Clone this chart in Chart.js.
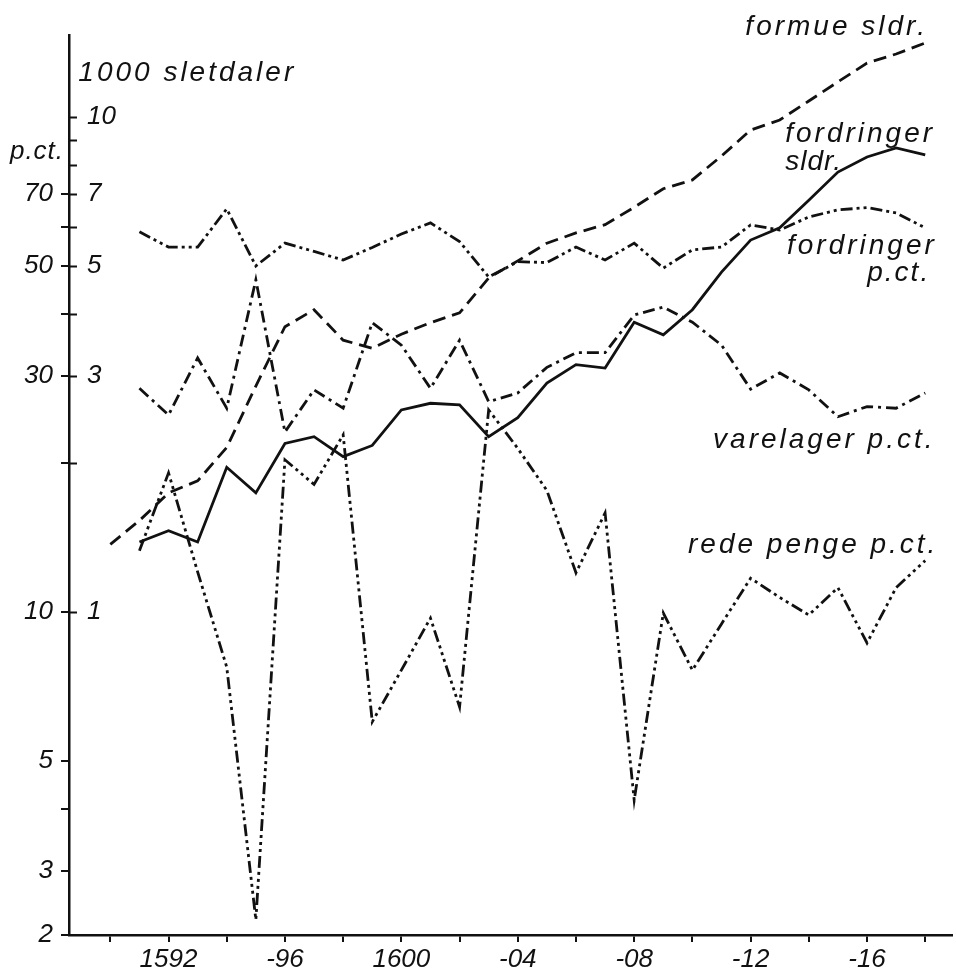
<!DOCTYPE html>
<html>
<head>
<meta charset="utf-8">
<title>Formue, fordringer, varelager og rede penge 1590-1618</title>
<script src="https://cdn.jsdelivr.net/npm/chart.js@4.4.1/dist/chart.umd.min.js"></script>
<style>
    html, body { margin: 0; padding: 0; background: #fff; }
    #wrap { position: relative; width: 956px; height: 971px; }
</style>
</head>
<body>
<div id="wrap"><canvas id="chart"></canvas></div>
<script>
(function() {
    'use strict';

    // --- data ---
    const years = [1590, 1591, 1592, 1593, 1594, 1595, 1596, 1597, 1598, 1599,
                   1600, 1601, 1602, 1603, 1604, 1605, 1606, 1607, 1608, 1609,
                   1610, 1611, 1612, 1613, 1614, 1615, 1616, 1617, 1618];

    // 1000 sletdaler
    const formueSldr = [1.37, 1.53, 1.74, 1.84, 2.15, 2.86, 3.77, 4.08, 3.54, 3.41,
                        3.64, 3.84, 4.02, 4.73, 5.12, 5.56, 5.83, 6.06, 6.57, 7.16,
                        7.46, 8.34, 9.41, 9.86, 10.77, 11.77, 12.85, 13.4, 14.11];
    const fordringerSldr = [null, 1.385, 1.46, 1.385, 1.96, 1.74, 2.19, 2.26, 2.06, 2.17,
                            2.56, 2.64, 2.62, 2.26, 2.47, 2.90, 3.16, 3.11, 3.85, 3.63,
                            4.08, 4.86, 5.64, 5.97, 6.79, 7.74, 8.30, 8.66, 8.38];

    // p.ct.
    const fordringerPct = [null, 58.6, 54.6, 54.6, 65.2, 50.0, 55.6, 53.5, 51.4, 54.5,
                           58.0, 61.1, 56.0, 47.5, 51.0, 50.8, 54.6, 51.4, 55.6, 49.5,
                           53.9, 54.6, 60.5, 59.1, 62.8, 64.9, 65.6, 64.0, 59.7];
    const varelagerPct = [null, 28.3, 25.0, 32.6, 25.8, 46.9, 23.1, 28.1, 25.8, 38.4,
                          34.6, 28.3, 35.4, 26.6, 27.7, 31.2, 33.4, 33.4, 39.8, 41.3,
                          38.5, 34.6, 28.2, 30.4, 28.1, 24.8, 26.0, 25.8, 27.7];
    const redePengePct = [null, 13.3, 19.1, 12.05, 7.74, 2.39, 20.3, 18.1, 22.8, 6.0,
                          7.63, 9.72, 6.43, 25.6, 21.4, 17.6, 12.0, 15.85, 4.17, 9.95,
                          7.63, 9.46, 11.7, 10.7, 9.86, 11.2, 8.66, 11.2, 12.7];

    // axes
    const xTickYears = [1590, 1592, 1594, 1596, 1598, 1600, 1602, 1604, 1606, 1608,
                        1610, 1612, 1614, 1616, 1618];
    const xLabelYears = [1592, 1596, 1600, 1604, 1608, 1612, 1616];
    const xLabelTexts = ['1592', '-96', '1600', '-04', '-08', '-12', '-16'];

    const yMinPct = 2.226;
    const yMaxPct = 146.4;
    const pctTickValues = [yMinPct, 3, 4, 5, 10, 20, 30, 40, 50, 60, 70, 80, 90, 100];
    const pctLabelValues = [yMinPct, 3, 5, 10, 30, 50, 70];
    const pctLabelTexts = ['2', '3', '5', '10', '30', '50', '70'];
    const sldrTickValues = [1, 3, 5, 7, 10];
    const innerTickValues = [10, 20, 30, 40, 50, 60, 70, 80, 90, 100];

    // text written on the drawing, anchored in data units
    const notes = [
        { text: '1000 sletdaler', year: 1588.9, pct: 122.7, align: 'left' },
        { text: 'p.ct.', year: 1586.55, pct: 85, align: 'left', size: 26, spacing: 1 },
        { text: 'formue sldr.', year: 1618.1, pct: 152, align: 'right' },
        { text: 'fordringer', year: 1613.19, pct: 92.3, align: 'left' },
        { text: 'sldr.', year: 1613.19, pct: 81, align: 'left', spacing: 1 },
        { text: 'fordringer', year: 1613.25, pct: 54.9, align: 'left' },
        { text: 'p.ct.', year: 1618.17, pct: 48.4, align: 'right', spacing: 2 },
        { text: 'varelager p.ct.', year: 1610.71, pct: 22.25, align: 'left' },
        { text: 'rede penge p.ct.', year: 1609.85, pct: 13.66, align: 'left' }
    ];

    const INK = '#111';
    const FONT_FAMILY = '"Liberation Sans", Arial, sans-serif';
    const tickFont = { family: FONT_FAMILY, size: 26, style: 'italic' };

    function points(values) {
        return years.map((yr, i) => ({ x: yr, y: values[i] }));
    }

    function lineSet(label, values, axis, dash) {
        return {
            label,
            data: points(values),
            yAxisID: axis,
            borderColor: INK,
            borderWidth: 2.8,
            borderDash: dash,
            borderCapStyle: 'butt',
            pointRadius: 0,
            tension: 0,
            fill: false
        };
    }

    const paperMarks = {
        id: 'paperMarks',
        afterDraw(chart) {
            const ctx = chart.ctx;
            const x = chart.scales.x;
            const y = chart.scales.y;
            const left = chart.chartArea.left;

            ctx.save();
            // ticks on the inner side of the vertical axis (sletdaler side)
            ctx.strokeStyle = INK;
            ctx.lineWidth = 2;
            innerTickValues.forEach(v => {
                const py = Math.round(y.getPixelForValue(v)) + 0.5;
                ctx.beginPath();
                ctx.moveTo(left, py);
                ctx.lineTo(left + 8, py);
                ctx.stroke();
            });

            ctx.fillStyle = INK;
            ctx.textBaseline = 'middle';
            notes.forEach(n => {
                ctx.font = 'italic ' + (n.size || 28) + 'px ' + FONT_FAMILY;
                if ('letterSpacing' in ctx) ctx.letterSpacing = (n.spacing ?? 3) + 'px';
                ctx.textAlign = n.align;
                ctx.fillText(n.text, x.getPixelForValue(n.year), y.getPixelForValue(n.pct));
            });
            ctx.restore();
        }
    };

    new Chart(document.getElementById('chart'), {
        type: 'line',
        data: {
            datasets: [
                lineSet('formue sldr.', formueSldr, 'y2', [13, 7]),
                lineSet('fordringer sldr.', fordringerSldr, 'y2', []),
                lineSet('fordringer p.ct.', fordringerPct, 'y', [12, 4, 3, 4, 3, 4]),
                lineSet('varelager p.ct.', varelagerPct, 'y', [12, 5, 3, 5]),
                lineSet('rede penge p.ct.', redePengePct, 'y', [12, 4, 3, 4, 3, 4, 3, 4])
            ]
        },
        options: {
            responsive: true,
            maintainAspectRatio: false,
            animation: false,
            layout: { padding: { top: 35, right: 4, bottom: 0, left: 0 } },
            plugins: {
                legend: { display: false },
                tooltip: { enabled: false }
            },
            scales: {
                x: {
                    type: 'linear',
                    min: 1588.58,
                    max: 1618.92,
                    afterBuildTicks: s => { s.ticks = xTickYears.map(v => ({ value: v })); },
                    afterFit: s => { s.height = 36; },
                    grid: { drawOnChartArea: false, color: INK, lineWidth: 2, tickLength: 7 },
                    border: { color: INK, width: 2.5 },
                    ticks: {
                        color: INK,
                        font: tickFont,
                        padding: 2,
                        maxRotation: 0,
                        autoSkip: false,
                        callback: v => {
                            const i = xLabelYears.indexOf(v);
                            return i < 0 ? '' : xLabelTexts[i];
                        }
                    }
                },
                y: {
                    type: 'logarithmic',
                    position: 'left',
                    weight: 1,
                    min: yMinPct,
                    max: yMaxPct,
                    afterBuildTicks: s => { s.ticks = pctTickValues.map(v => ({ value: v })); },
                    afterFit: s => { s.width = 69; },
                    grid: {
                        drawOnChartArea: false,
                        tickLength: 8,
                        lineWidth: 2,
                        color: c => (c.tick && c.tick.value > 75) ? 'rgba(0,0,0,0)' : INK
                    },
                    border: { color: INK, width: 2.5 },
                    ticks: {
                        color: INK,
                        font: tickFont,
                        padding: 8,
                        autoSkip: false,
                        callback: v => {
                            const i = pctLabelValues.indexOf(v);
                            return i < 0 ? '' : pctLabelTexts[i];
                        }
                    }
                },
                y2: {
                    type: 'logarithmic',
                    position: 'left',
                    weight: 0,
                    min: yMinPct / 10,
                    max: yMaxPct / 10,
                    afterBuildTicks: s => { s.ticks = sldrTickValues.map(v => ({ value: v })); },
                    afterFit: s => { s.width = 0; },
                    grid: { display: false },
                    border: { display: false },
                    ticks: {
                        mirror: true,
                        padding: 18,
                        color: INK,
                        font: tickFont,
                        autoSkip: false,
                        callback: v => String(v)
                    }
                }
            }
        },
        plugins: [paperMarks]
    });
})();
</script>
</body>
</html>
